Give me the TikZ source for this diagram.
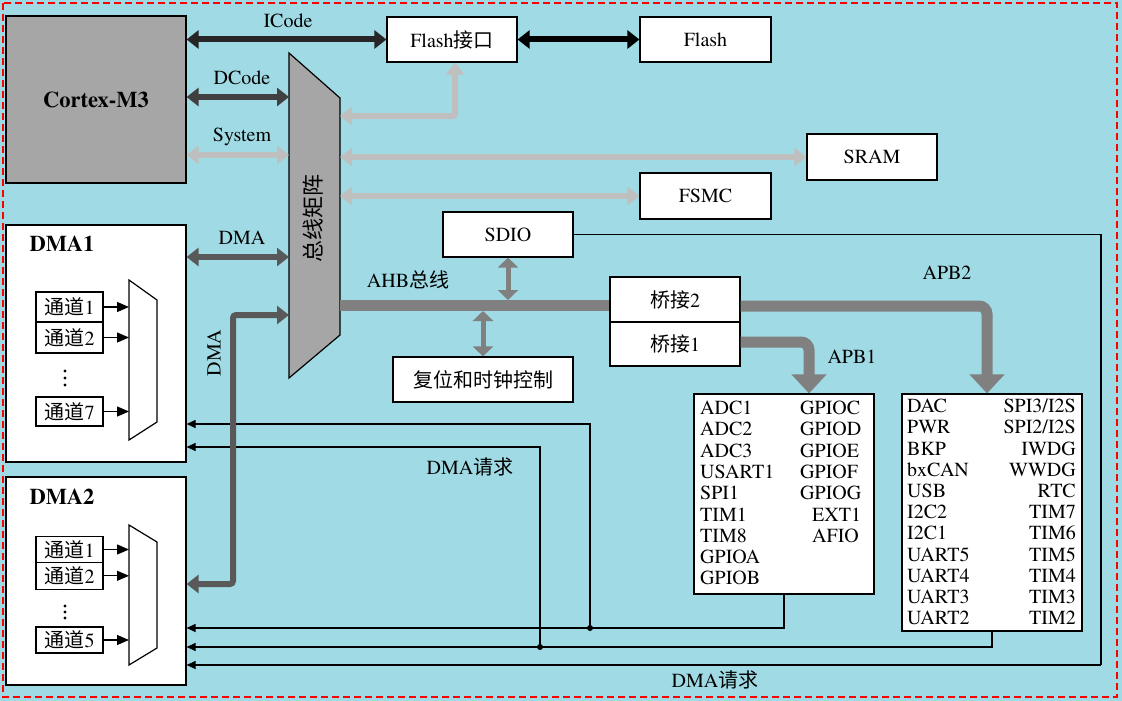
\documentclass[tikz,border=0pt]{standalone}
\usepackage{fontspec}
\setmainfont{texgyretermes}[Extension=.otf, UprightFont=*-regular, BoldFont=*-bold]
\newfontfamily\tms{texgyretermes}[Extension=.otf, UprightFont=*-regular, BoldFont=*-bold]
\newfontfamily\cjk{Noto Sans CJK SC}
\usetikzlibrary{arrows.meta}
\definecolor{bgc}{RGB}{160,218,228}
\definecolor{cgray}{RGB}{166,166,166}
\definecolor{icol}{RGB}{38,38,38}
\definecolor{dcol}{RGB}{64,64,64}
\definecolor{lcol}{RGB}{191,191,191}
\definecolor{dmacol}{RGB}{89,89,89}
\definecolor{buscol}{RGB}{128,128,128}
\tikzset{
  box/.style={draw=black, line width=1.2pt, fill=white, inner sep=0pt, align=center},
  chbox/.style={box, minimum width=67pt},
  dbl/.style={<->, >={Triangle[length=12pt,width=18pt]}, line width=6pt},
  mid/.style={<->, >={Triangle[length=10pt,width=20pt]}, line width=5pt, buscol},
  req/.style={-{Triangle[length=9pt,width=8pt]}, line width=1.2pt, black},
  charr/.style={-{Triangle[length=12pt,width=10pt]}, line width=1.2pt, black},
  apb/.style={-{Triangle[length=19pt,width=34pt]}, line width=11pt, buscol, rounded corners=8pt},
  lbl/.style={inner sep=0pt},
}
\begin{document}
\begin{tikzpicture}[x=1pt,y=-1pt, font=\tms\fontsize{20}{22}\selectfont]
\useasboundingbox (0,0) rectangle (1122,701);
\fill[bgc] (0,0) rectangle (1122,701);
\draw[red, dashed, line width=1.5pt, dash pattern=on 7pt off 4pt] (3,3) rectangle (1117,697);

% nodes
\node[box, fill=cgray, minimum width=180pt, minimum height=167pt, font=\tms\fontsize{22.5}{24}\selectfont\bfseries] (cortex) at (96,99.5) {Cortex-M3};
\node[box, minimum width=130pt, minimum height=45pt] (flashif) at (452,39.5) {Flash{\cjk 接口}};
\node[box, minimum width=131pt, minimum height=45pt] (flash) at (705.5,39.5) {Flash};
\node[box, minimum width=130pt, minimum height=46pt] (sram) at (872,157) {SRAM};
\node[box, minimum width=131pt, minimum height=46pt] (fsmc) at (705.5,196) {FSMC};
\node[box, minimum width=130pt, minimum height=45pt] (sdio) at (508,234.5) {SDIO};
\node[box, minimum width=130pt, minimum height=45pt] (bridge2) at (675,299.5) {{\cjk 桥接}2};
\node[box, minimum width=130pt, minimum height=44pt] (bridge1) at (675,344) {{\cjk 桥接}1};
\node[box, minimum width=180pt, minimum height=45pt] (rcc) at (483,379.5) {\cjk 复位和时钟控制};
\node[box, minimum width=180pt, minimum height=200pt] (apb1box) at (784,494) {};
\node[box, minimum width=180pt, minimum height=237pt] (apb2box) at (992,512.5) {};
\node[box, minimum width=180pt, minimum height=237pt] (dma1) at (96,343.5) {};
\node[box, minimum width=180pt, minimum height=208pt] (dma2) at (96,581) {};

% bus matrix
\draw[fill=cgray, line width=1.2pt] (289,53) -- (340,98) -- (340,335) -- (289,378) -- cycle;
\node[lbl, rotate=90, font=\fontsize{22}{24}\selectfont] (bmtext) at (313,218) {\cjk 总线矩阵};
\coordinate (mL) at (289,0);
\coordinate (mR) at (340,0);

% DMA1 internals
\node[lbl, font=\tms\fontsize{22.5}{24}\selectfont\bfseries] (dma1t) at (62,244) {DMA1};
\node[chbox, minimum height=30pt] (c11) at (69.5,307) {{\cjk 通道}1};
\node[chbox, minimum height=31pt] (c12) at (69.5,337.5) {{\cjk 通道}2};
\node[chbox, minimum height=29pt] (c17) at (69.5,411.5) {{\cjk 通道}7};
\fill (65,371) circle (1.6pt) (65,378) circle (1.6pt) (65,385) circle (1.6pt);
\draw[line width=1.2pt, fill=white] (129,280) -- (157,300) -- (157,422) -- (129,440) -- cycle;
\coordinate (mx1) at (129,0);
\draw[charr] (c11.east) -- (mx1 |- c11.east);
\draw[charr] (c12.east) -- (mx1 |- c12.east);
\draw[charr] (c17.east) -- (mx1 |- c17.east);

% DMA2 internals
\node[lbl, font=\tms\fontsize{22.5}{24}\selectfont\bfseries] (dma2t) at (62,497) {DMA2};
\node[chbox, minimum height=25.6pt] (c21) at (69.5,549.5) {{\cjk 通道}1};
\node[chbox, minimum height=27pt] (c22) at (69.5,575.8) {{\cjk 通道}2};
\node[chbox, minimum height=26pt] (c25) at (69.5,640) {{\cjk 通道}5};
\fill (65,606) circle (1.6pt) (65,612) circle (1.6pt) (65,618) circle (1.6pt);
\draw[line width=1.2pt, fill=white] (129,525) -- (157,542) -- (157,648) -- (129,665) -- cycle;
\draw[charr] (c21.east) -- (mx1 |- c21.east);
\draw[charr] (c22.east) -- (mx1 |- c22.east);
\draw[charr] (c25.east) -- (mx1 |- c25.east);

% DMA request lines
\coordinate (j1) at (590,628);
\coordinate (j2) at (540,647);
\coordinate (rc) at (1101,665);
\draw[req] (apb1box.south) |- (dma2.east |- j1);
\draw[req] (j1) |- (dma1.east |- 0,424);
\draw[req] (apb2box.south) |- (dma2.east |- j2);
\draw[req] (j2) |- (dma1.east |- 0,447);
\draw[line width=1.2pt] (sdio.east) -| (rc);
\draw[req] (rc) -- (dma2.east |- rc);
\fill (j1) circle (3pt);
\fill (j2) circle (3pt);
\node[lbl] (req1) at (470,467) {DMA{\cjk 请求}};
\node[lbl] (req2) at (715,680) {DMA{\cjk 请求}};

% core buses
\draw[dbl, icol] (cortex.east |- flashif.west) -- (flashif.west);
\draw[dbl, black] (flashif.east) -- (flash.west);
\draw[dbl, dcol] (cortex.east |- 0,97) -- (mL |- 0,97);
\draw[dbl, lcol] (cortex.east |- 0,155) -- (mL |- 0,155);
\draw[dbl, dmacol] (dma1.east |- 0,257) -- (mL |- 0,257);
\draw[dbl, lcol, rounded corners=2pt] (mR |- 0,116) -| ([xshift=3pt]flashif.south);
\draw[dbl, lcol] (mR |- sram.west) -- (sram.west);
\draw[dbl, lcol] (mR |- fsmc.west) -- (fsmc.west);
\draw[dbl, dmacol, rounded corners=3pt] (dma2.east |- 0,584) -| (233,315) -- (mL |- 0,315);

\node[lbl] (licode) at (288,21) {ICode};
\node[lbl] (ldcode) at (242,78) {DCode};
\node[lbl] (lsys) at (242,137) {System};
\node[lbl] (ldma) at (242,238) {DMA};
\node[lbl, rotate=90] (ldmav) at (214,353) {DMA};

% AHB
\draw[line width=11pt, buscol] (mR |- 0,305.5) -- (bridge2.west |- 0,305.5);
\draw[mid] (sdio.south) -- (sdio.south |- 0,300);
\draw[mid] (rcc.north) -- (rcc.north |- 0,311);
\node[lbl] (lahb) at (408,280) {AHB{\cjk 总线}};

% APB
\draw[apb] (bridge2.east |- 0,306) -| ([xshift=-5pt]apb2box.north);
\draw[apb] (bridge1.east |- 0,342) -| ([xshift=25pt]apb1box.north);
\node[lbl] (lapb2) at (947,273) {APB2};
\node[lbl] (lapb1) at (852,357) {APB1};

% APB1 list
\foreach \t [count=\i from 0] in {ADC1,ADC2,ADC3,USART1,SPI1,TIM1,TIM8,GPIOA,GPIOB}
  \node[lbl, anchor=west] (a1l\i) at (700,408+21.25*\i) {\t};
\foreach \t [count=\i from 0] in {GPIOC,GPIOD,GPIOE,GPIOF,GPIOG}
  \node[lbl, anchor=west] (a1r\i) at (800,408+21.25*\i) {\t};
\node[lbl, anchor=west] (a1r5) at (812,408+21.25*5) {EXT1};
\node[lbl, anchor=west] (a1r6) at (812,408+21.25*6) {AFIO};

% APB2 list
\foreach \t [count=\i from 0] in {DAC,PWR,BKP,bxCAN,USB,I2C2,I2C1,UART5,UART4,UART3,UART2}
  \node[lbl, anchor=west] (a2l\i) at (907,406+21.2*\i) {\t};
\foreach \t [count=\i from 0] in {SPI3/I2S,SPI2/I2S,IWDG,WWDG,RTC,TIM7,TIM6,TIM5,TIM4,TIM3,TIM2}
  \node[lbl, anchor=east] (a2r\i) at (1076,406+21.2*\i) {\t};
\end{tikzpicture}
\end{document}
